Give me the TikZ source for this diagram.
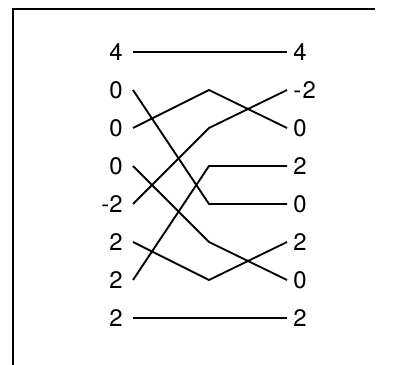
\documentclass[tikz,border=0pt]{standalone}
\usepackage{fontspec}
\setmainfont{TeX Gyre Heros}
\usepackage{tikz}
\tikzset{
  wire/.style={line width=1.3pt, line join=miter},
  framerule/.style={line width=1.3pt},
  leftval/.style={anchor=east, inner sep=0pt, font=\fontsize{17}{20}\selectfont},
  rightval/.style={anchor=west, inner sep=0pt, font=\fontsize{17}{20}\selectfont}
}

\begin{document}
\begin{tikzpicture}[x=0.025cm,y=-0.025cm]
\useasboundingbox (0,0) rectangle (393,365);
\draw[framerule] (13,365) -- (13,9) -- (375,9);
% wire ends and middle bends, one row each
\foreach \i/\y in {0/52,1/90,2/128,3/166,4/204,5/242,6/280,7/318} {
  \coordinate (a\i) at (133,\y);
  \coordinate (m\i) at (209,\y);
  \coordinate (b\i) at (287,\y);
}
\node[leftval] (l0) at (123,52) {4};
\node[leftval] (l1) at (123,90) {0};
\node[leftval] (l2) at (123,128) {0};
\node[leftval] (l3) at (123,166) {0};
\node[leftval] (l4) at (123,204) {-2};
\node[leftval] (l5) at (123,242) {2};
\node[leftval] (l6) at (123,280) {2};
\node[leftval] (l7) at (123,318) {2};
\node[rightval] (r0) at (293,52) {4};
\node[rightval] (r1) at (293,90) {-\kern1pt 2};
\node[rightval] (r2) at (293,128) {0};
\node[rightval] (r3) at (293,166) {2};
\node[rightval] (r4) at (293,204) {0};
\node[rightval] (r5) at (293,242) {2};
\node[rightval] (r6) at (293,280) {0};
\node[rightval] (r7) at (293,318) {2};
\draw[wire] (a0) -- (b0);
\draw[wire] (a1) -- (m4) -- (b4);
\draw[wire] (a2) -- (m1) -- (b2);
\draw[wire] (a3) -- (m5) -- (b6);
\draw[wire] (a4) -- (m2) -- (b1);
\draw[wire] (a5) -- (m6) -- (b5);
\draw[wire] (a6) -- (m3) -- (b3);
\draw[wire] (a7) -- (b7);
\end{tikzpicture}
\end{document}
